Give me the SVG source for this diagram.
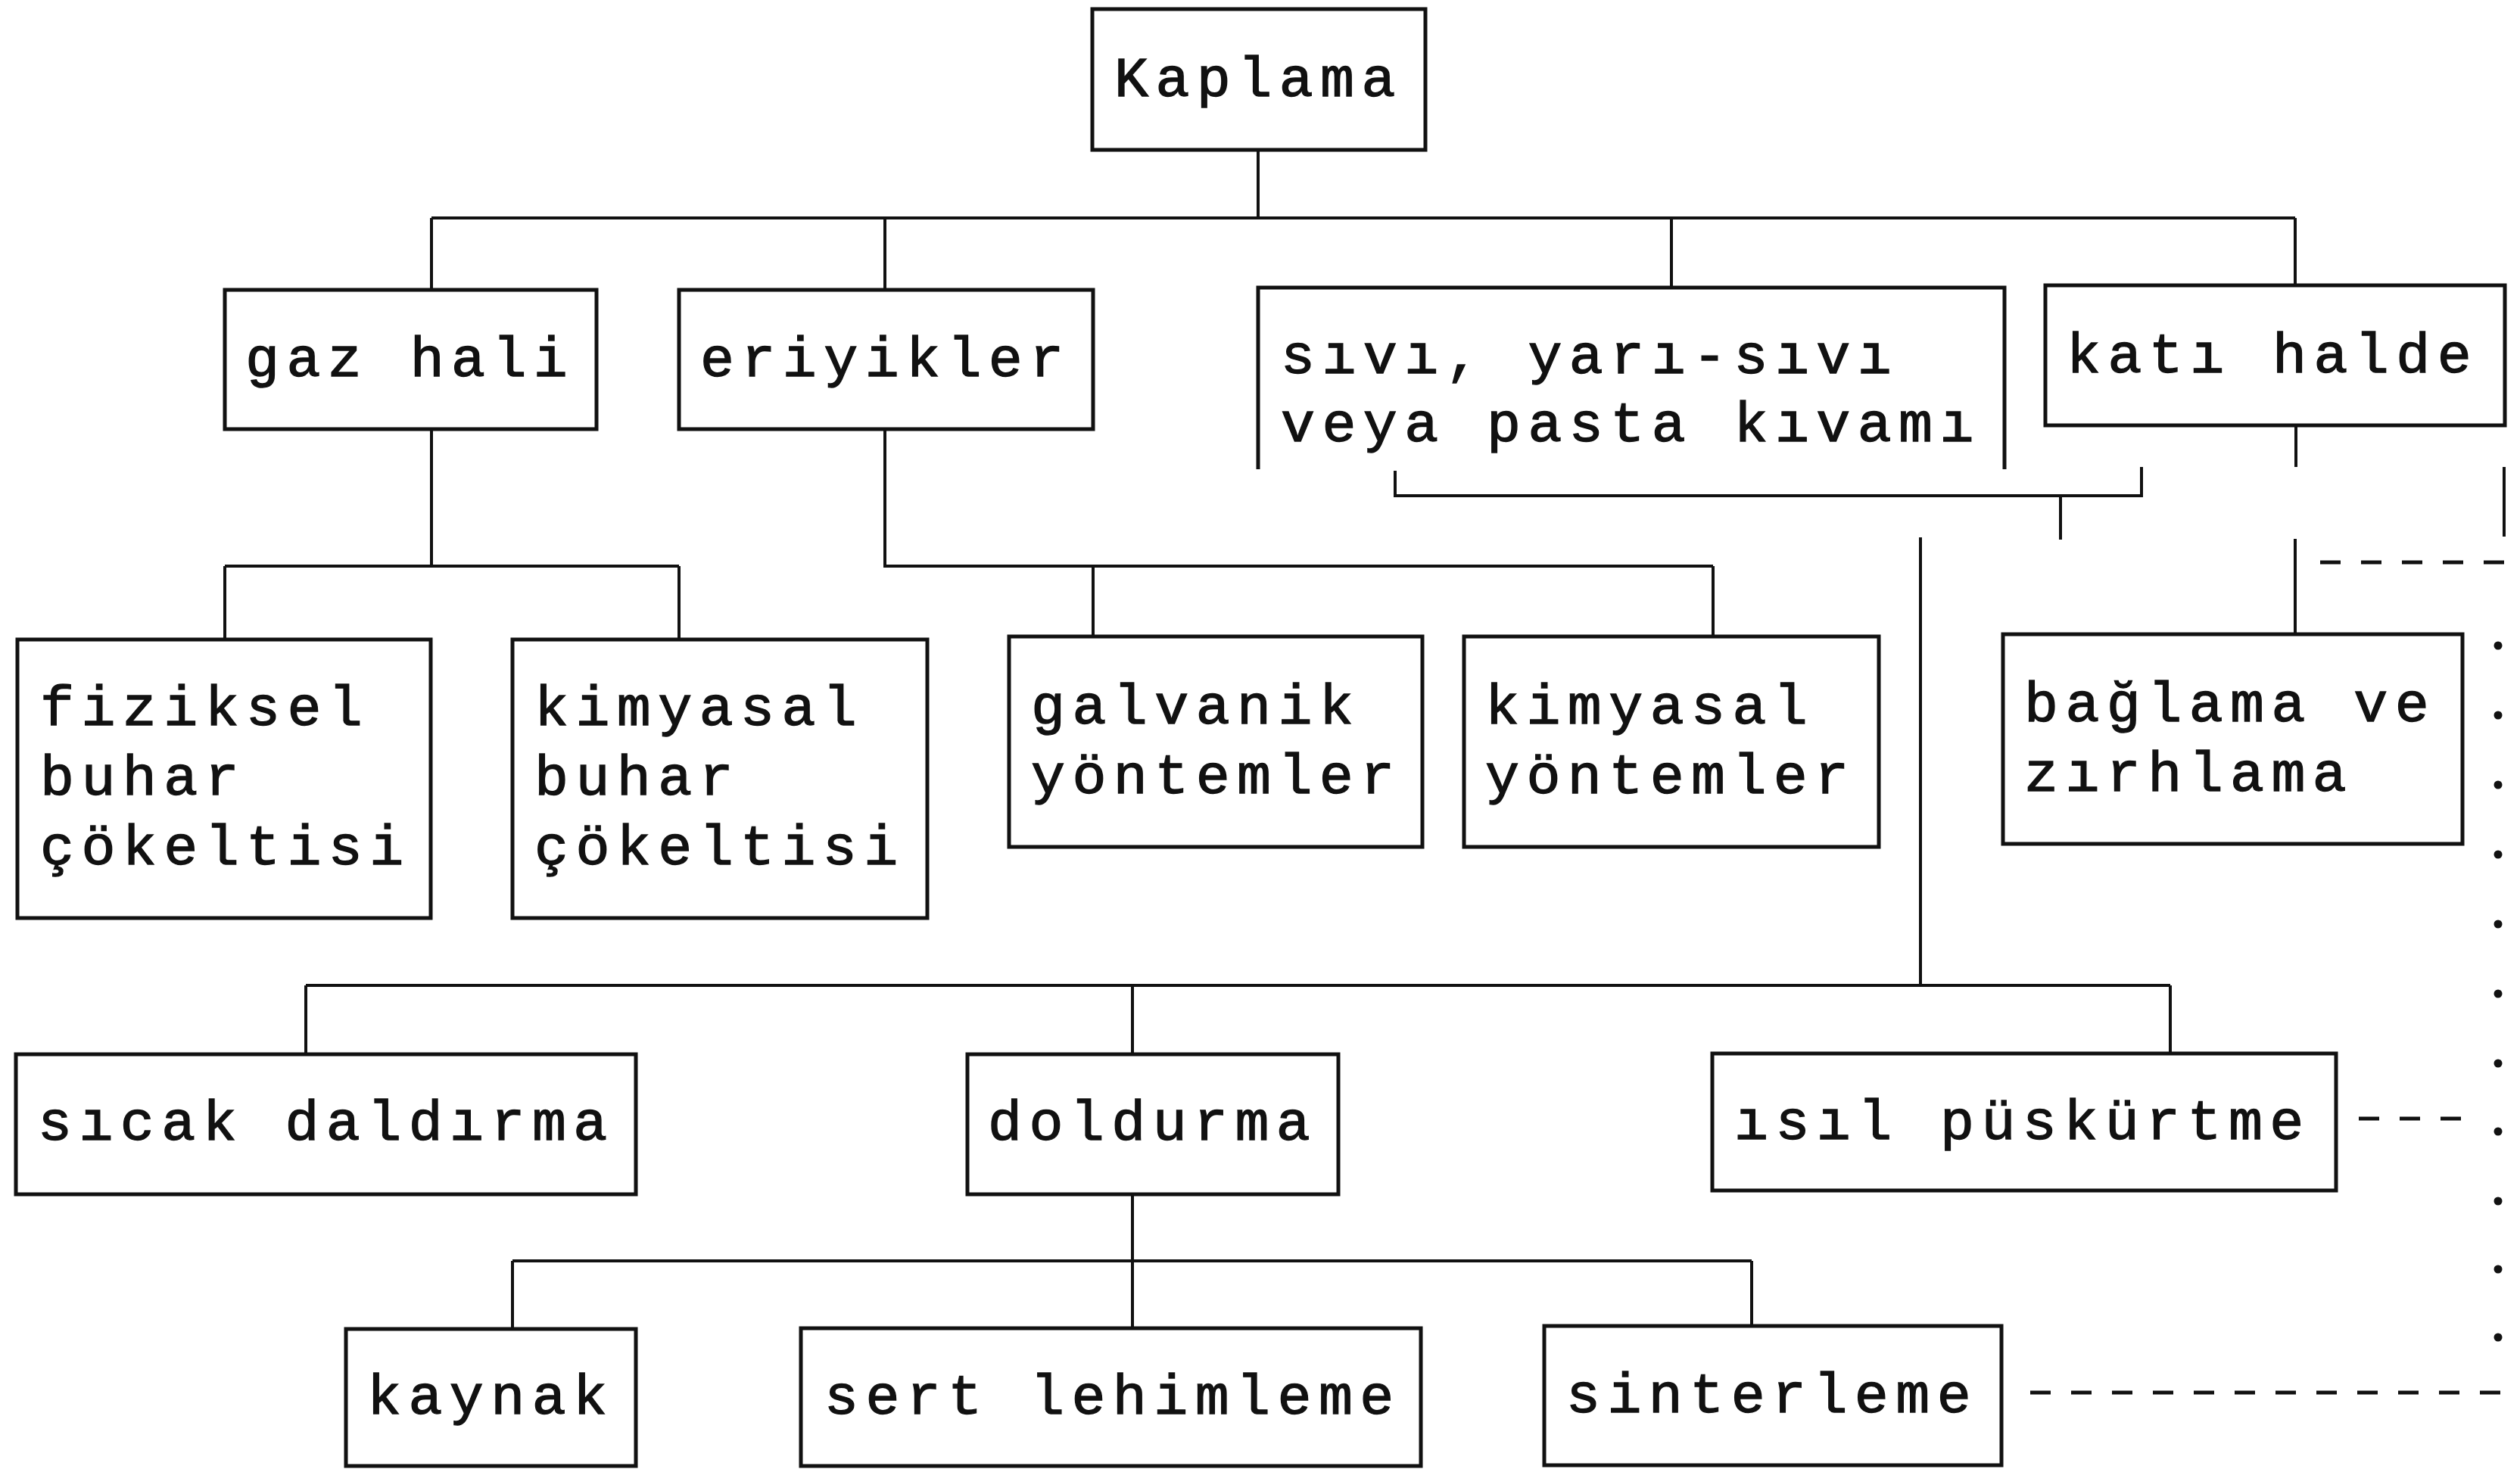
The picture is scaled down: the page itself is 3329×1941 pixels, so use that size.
<svg xmlns="http://www.w3.org/2000/svg" width="3329" height="1941" viewBox="0 0 3329 1941">
<style>
.box{fill:#fff;stroke:#111;stroke-width:5}
.open{fill:none;stroke:#111;stroke-width:5}
.t{font-family:"Liberation Mono","Courier New",monospace;font-size:75px;letter-spacing:9.4px;fill:#111;stroke:#111;stroke-width:1.4}
.c{fill:none;stroke:#111;stroke-width:4}
.dash{fill:none;stroke:#111;stroke-width:5;stroke-dasharray:27 27}
.dot{fill:#111}
</style>
<rect width="3329" height="1941" fill="#fff"/>
<g id="connectors">
<path class="c" d="M1662 198V288M570 288H3032M570 288V383M1169 288V383M2208 288V380M3032 288V377"/>
<path class="c" d="M570 567V748M297 748H897M297 748V845M897 748V845"/>
<path class="c" d="M1169 567V748H2263M1444 748V841M2263 748V841"/>
<path class="c" d="M3033 562V617"/>
<path class="c" d="M1843 622V655H2829V617M2722 655V713"/>
<path class="c" d="M3308 617V709"/>
<path class="c" d="M3032 712V838"/>
<path class="c" d="M2537 710V1302M404 1302H2867M404 1302V1393M1496 1302V1393M2867 1302V1392"/>
<path class="c" d="M1496 1578V1755M677 1666H2314M677 1666V1756M2314 1666V1752"/>
<path class="dash" d="M3065 743H3329"/>
<path class="dash" d="M3116 1478H3270"/>
<path class="dash" d="M2682 1840H3329"/>
<g class="dot">
<circle cx="3300" cy="853" r="5.5"/><circle cx="3300" cy="945" r="5.5"/><circle cx="3300" cy="1037" r="5.5"/><circle cx="3300" cy="1129" r="5.5"/><circle cx="3300" cy="1221" r="5.5"/><circle cx="3300" cy="1313" r="5.5"/><circle cx="3300" cy="1405" r="5.5"/><circle cx="3300" cy="1495" r="5.5"/><circle cx="3300" cy="1587" r="5.5"/><circle cx="3300" cy="1677" r="5.5"/><circle cx="3300" cy="1767" r="5.5"/>
</g>
</g>
<g id="kaplama"><rect class="box" x="1443" y="12" width="440" height="186"/><text class="t" x="1472" y="127">Kaplama</text></g>
<g id="gaz-hali"><rect class="box" x="297" y="383" width="491" height="184"/><text class="t" x="324" y="497">gaz hali</text></g>
<g id="eriyikler"><rect class="box" x="897" y="383" width="547" height="184"/><text class="t" x="925" y="497">eriyikler</text></g>
<g id="sivi"><path class="open" d="M1662 620V380H2648V620"/><text class="t" x="1692" y="493">sıvı, yarı-sıvı</text><text class="t" x="1692" y="583">veya pasta kıvamı</text></g>
<g id="kati-halde"><rect class="box" x="2702" y="377" width="607" height="185"/><text class="t" x="2730" y="492">katı halde</text></g>
<g id="fiziksel"><rect class="box" x="23" y="845" width="546" height="368"/><text class="t" x="53" y="958">fiziksel</text><text class="t" x="53" y="1050">buhar</text><text class="t" x="53" y="1142">çökeltisi</text></g>
<g id="kimyasal-buhar"><rect class="box" x="677" y="845" width="548" height="368"/><text class="t" x="706" y="958">kimyasal</text><text class="t" x="706" y="1050">buhar</text><text class="t" x="706" y="1142">çökeltisi</text></g>
<g id="galvanik"><rect class="box" x="1333" y="841" width="546" height="278"/><text class="t" x="1362" y="956">galvanik</text><text class="t" x="1362" y="1048">yöntemler</text></g>
<g id="kimyasal-yontemler"><rect class="box" x="1934" y="841" width="548" height="278"/><text class="t" x="1962" y="956">kimyasal</text><text class="t" x="1962" y="1048">yöntemler</text></g>
<g id="baglama"><rect class="box" x="2646" y="838" width="607" height="277"/><text class="t" x="2674" y="953">bağlama ve</text><text class="t" x="2674" y="1045">zırhlama</text></g>
<g id="sicak-daldirma"><rect class="box" x="21" y="1393" width="819" height="185"/><text class="t" x="50" y="1506">sıcak daldırma</text></g>
<g id="doldurma"><rect class="box" x="1278" y="1393" width="490" height="185"/><text class="t" x="1305" y="1506">doldurma</text></g>
<g id="isil-puskurtme"><rect class="box" x="2262" y="1392" width="824" height="181"/><text class="t" x="2291" y="1505">ısıl püskürtme</text></g>
<g id="kaynak"><rect class="box" x="457" y="1756" width="383" height="181"/><text class="t" x="485" y="1868">kaynak</text></g>
<g id="sert-lehimleme"><rect class="box" x="1058" y="1755" width="819" height="182"/><text class="t" x="1089" y="1868">sert lehimleme</text></g>
<g id="sinterleme"><rect class="box" x="2040" y="1752" width="604" height="184"/><text class="t" x="2069" y="1866">sinterleme</text></g>
</svg>
